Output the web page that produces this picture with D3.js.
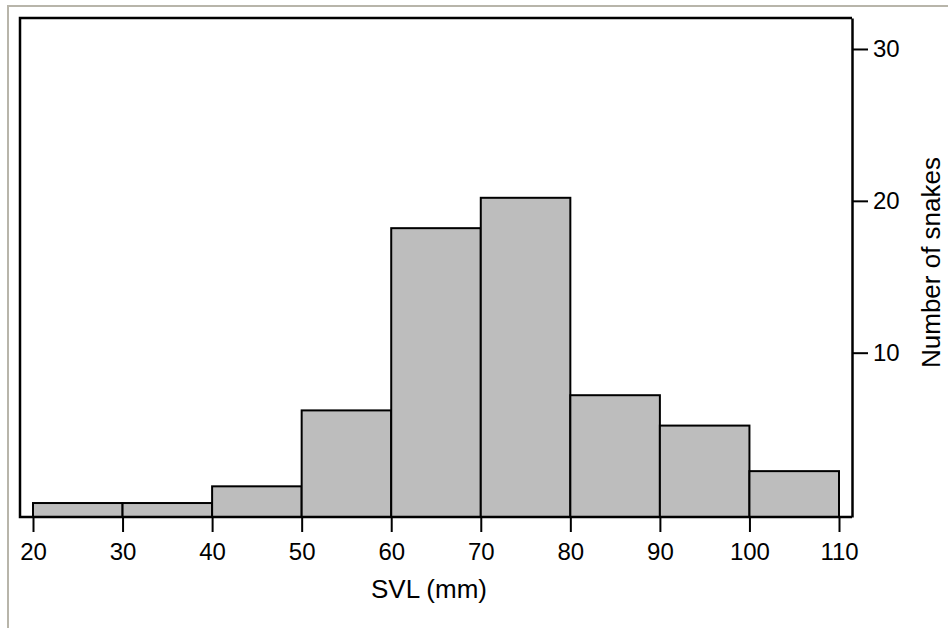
<!DOCTYPE html>
<html>
<head>
<meta charset="utf-8">
<script src="https://cdn.jsdelivr.net/npm/d3@7"></script>
<style>
    body { margin: 0; background: #fff; }
    svg text { font-family: "Liberation Sans", Arial, sans-serif; fill: #000; }
</style>
</head>
<body>
<div class="container"></div>
<script>
// SVL bins (mm) and snake counts per bin
var binEdges = [20, 30, 40, 50, 60, 70, 80, 90, 100, 110];
var counts = [0.1, 0.1, 1.2, 6.2, 18.2, 20.2, 7.2, 5.2, 2.2];
var xTicks = [20, 30, 40, 50, 60, 70, 80, 90, 100, 110];
var yTicks = [10, 20, 30];

var drawChart = function () {

    var WIDTH = 948;
    var HEIGHT = 628;
    var FRAME_LEFT = 20;
    var FRAME_RIGHT = 852;
    var FRAME_TOP = 18;
    var FRAME_BOTTOM = 517;
    var Y_MIN = -0.82;
    var Y_MAX = 32.04;

    var xScale = d3.scaleLinear()
        .domain([20, 110])
        .range([33, 839]);

    var yScale = d3.scaleLinear()
        .domain([Y_MIN, Y_MAX])
        .range([FRAME_BOTTOM, FRAME_TOP]);

    var svg = d3.select('.container')
        .append('svg')
        .attr('width', WIDTH)
        .attr('height', HEIGHT);

    // outer panel border
    svg.append('rect')
        .attr('x', 8)
        .attr('y', 6)
        .attr('width', 1200)
        .attr('height', 900)
        .attr('fill', 'none')
        .attr('stroke', '#b8b5aa')
        .attr('stroke-width', 2);

    var bins = counts.map(function (c, i) {
        return {x0: binEdges[i], x1: binEdges[i + 1], n: c};
    });

    svg.append('g')
        .selectAll('rect')
        .data(bins)
        .join('rect')
        .attr('x', function (d) { return xScale(d.x0); })
        .attr('y', function (d) { return yScale(d.n); })
        .attr('width', function (d) { return xScale(d.x1) - xScale(d.x0); })
        .attr('height', function (d) { return yScale(Y_MIN) - yScale(d.n); })
        .attr('fill', '#bdbdbd')
        .attr('stroke', '#000')
        .attr('stroke-width', 2);

    // frame: left, top and bottom edges
    svg.append('path')
        .attr('d', 'M' + FRAME_RIGHT + ',' + FRAME_TOP + 'H' + FRAME_LEFT + 'V' + FRAME_BOTTOM + 'H' + FRAME_RIGHT)
        .attr('fill', 'none')
        .attr('stroke', '#000')
        .attr('stroke-width', 2.5);

    var xAxis = d3.axisBottom(xScale)
        .tickValues(xTicks)
        .tickSize(15)
        .tickPadding(11)
        .tickSizeOuter(0);

    var gx = svg.append('g')
        .attr('transform', 'translate(0,' + FRAME_BOTTOM + ')')
        .call(xAxis);
    gx.select('.domain').remove();
    gx.selectAll('.tick line').attr('stroke', '#000').attr('stroke-width', 2);
    gx.selectAll('.tick text').style('font-size', '24px');

    var yAxis = d3.axisRight(yScale)
        .tickValues(yTicks)
        .tickSize(16)
        .tickPadding(5)
        .tickSizeOuter(0);

    var gy = svg.append('g')
        .attr('transform', 'translate(' + FRAME_RIGHT + ',0)')
        .call(yAxis);
    gy.select('.domain').attr('stroke', '#000').attr('stroke-width', 2.5);
    gy.selectAll('.tick line').attr('stroke', '#000').attr('stroke-width', 2);
    gy.selectAll('.tick text').style('font-size', '24px');

    svg.append('text')
        .attr('x', 429)
        .attr('y', 598)
        .attr('text-anchor', 'middle')
        .style('font-size', '26px')
        .text('SVL (mm)');

    svg.append('text')
        .attr('transform', 'translate(940,' + ((FRAME_TOP + FRAME_BOTTOM) / 2 - 5) + ') rotate(-90)')
        .attr('text-anchor', 'middle')
        .style('font-size', '26px')
        .text('Number of snakes');
};

window.onload = drawChart;
</script>
</body>
</html>
